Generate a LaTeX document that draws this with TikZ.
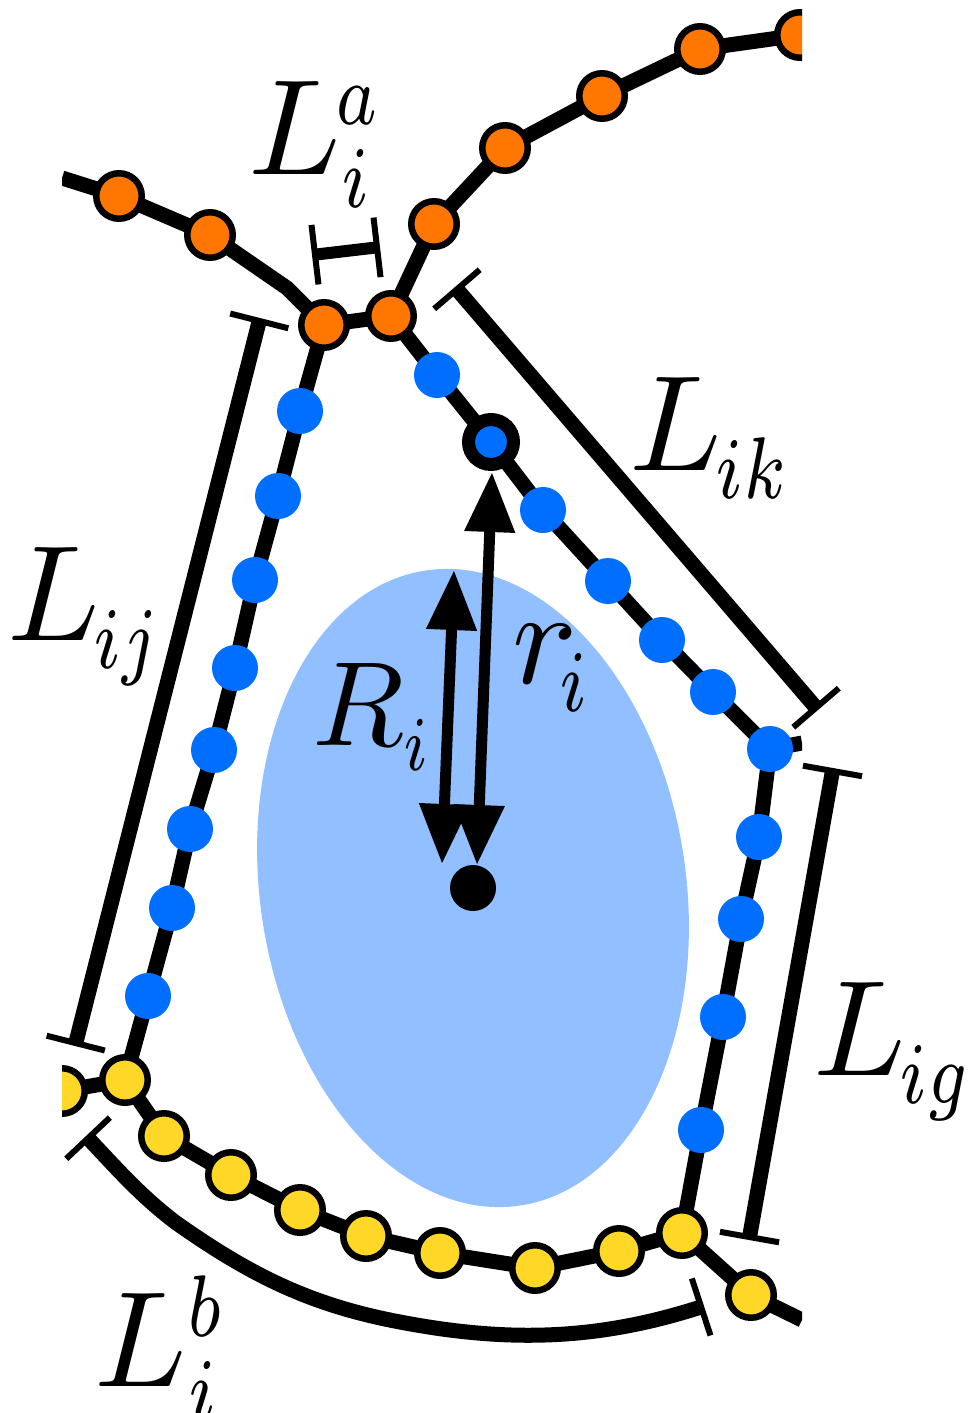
\documentclass[tikz,border=0pt]{standalone}
\usepackage{xcolor}
\usepackage{tikz}
\usetikzlibrary{arrows.meta,shapes.geometric,backgrounds,bending}

\definecolor{segorange}{HTML}{FF7700}
\definecolor{segblue}{HTML}{006EFF}
\definecolor{segyellow}{HTML}{FFD726}
\definecolor{cellblue}{HTML}{91BFFF}

\newcommand{\tightscript}[1]{\scalebox{.72}[.92]{$\scriptstyle #1$}}
\newcommand{\lowscript}[2][-.5pt]{\kern#1\raisebox{-.6pt}{\tightscript{#2}}}

\begin{document}
\begin{tikzpicture}[
  x=1pt, y=-1pt,
  orangebead/.style={circle, draw, line width=6.5pt, fill=segorange, minimum size=45.5pt, inner sep=0pt},
  yellowbead/.style={circle, draw, line width=6.5pt, fill=segyellow, minimum size=45.5pt, inner sep=0pt},
  bluebead/.style={circle, fill=segblue, minimum size=46pt, inner sep=0pt},
  ringbead/.style={circle, draw, line width=13pt, fill=segblue, minimum size=45pt, inner sep=0pt},
  centre/.style={circle, fill=black, minimum size=46pt, inner sep=0pt},
  cell/.style={ellipse, fill=cellblue, minimum width=426pt, minimum height=642pt, inner sep=0pt, outer sep=0pt, rotate=8.4},
  chain/.style={line width=15pt},
  span/.style={{Bar[width=60pt,line width=6pt]}-{Bar[width=60pt,line width=6pt]}, line width=15pt},
  radius/.style={{Triangle[length=60pt,width=48pt]}-{Triangle[length=60pt,width=48pt]}, line width=11pt},
  sym/.style={anchor=base west, inner sep=0pt, scale=13.6, transform shape}
]
\useasboundingbox (0,0) rectangle (969,1413);

\node[cell] (body) at (473,888) {};
\node[centre] (mid) at (473,888) {};

\begin{scope}
\clip (62,0) rectangle (802,1413);
\node[orangebead] (o1) at (119,196) {};
\node[orangebead] (o2) at (210,235) {};
\node[orangebead] (o3) at (324,325) {};
\node[orangebead] (o4) at (391,316) {};
\node[orangebead] (o5) at (434,224) {};
\node[orangebead] (o6) at (505,148) {};
\node[orangebead] (o7) at (602,96) {};
\node[orangebead] (o8) at (700,49) {};
\node[orangebead] (o9) at (800,35) {};

\node[bluebead] (j1) at (300,411) {};
\node[bluebead] (j2) at (278,496) {};
\node[bluebead] (j3) at (255,580) {};
\node[bluebead] (j4) at (235,668) {};
\node[bluebead] (j5) at (214,750) {};
\node[bluebead] (j6) at (190,829) {};
\node[bluebead] (j7) at (172,908) {};
\node[bluebead] (j8) at (148,996) {};

\node[bluebead] (k1) at (437,375) {};
\node[ringbead] (self) at (491,442) {};
\node[bluebead] (k2) at (543,510) {};
\node[bluebead] (k3) at (608,581) {};
\node[bluebead] (k4) at (662,640) {};
\node[bluebead] (k5) at (713,692) {};
\node[bluebead] (k6) at (770,749) {};

\node[bluebead] (g1) at (759,837) {};
\node[bluebead] (g2) at (741,919) {};
\node[bluebead] (g3) at (723,1017) {};
\node[bluebead] (g4) at (701,1130) {};

\node[yellowbead] (y1) at (62,1091) {};
\node[yellowbead] (y2) at (125,1080) {};
\node[yellowbead] (y3) at (164,1136) {};
\node[yellowbead] (y4) at (231,1175) {};
\node[yellowbead] (y5) at (300,1210) {};
\node[yellowbead] (y6) at (366,1236) {};
\node[yellowbead] (y7) at (440,1253) {};
\node[yellowbead] (y8) at (535,1268) {};
\node[yellowbead] (y9) at (619,1251) {};
\node[yellowbead] (y10) at (682,1233) {};
\node[yellowbead] (y11) at (751,1295) {};
\end{scope}

\coordinate (topleft) at (62,178);
\coordinate (bend) at (287,288);
\coordinate (stub) at (802,743);
\coordinate (botright) at (802,1320);

\begin{scope}[on background layer]
\clip (62,0) rectangle (802,1413);
\draw[chain] (topleft) -- (o1.center) -- (o2.center) -- (bend) -- (o3.center) -- (o4.center) -- (o5.center) -- (o6.center) -- (o7.center) -- (o8.center) -- (o9.center);
\draw[chain] (o3.center) -- (j1.center) -- (j2.center) -- (j3.center) -- (j4.center) -- (j5.center) -- (j6.center) -- (j7.center) -- (j8.center) -- (y2.center);
\draw[chain] (o4.center) -- (k1.center) -- (self.center) -- (k2.center) -- (k3.center) -- (k4.center) -- (k5.center) -- (k6.center) -- (stub);
\draw[chain] (k6.center) -- (g1.center) -- (g2.center) -- (g3.center) -- (g4.center) -- (y10.center);
\draw[chain] (y1.center) -- (y2.center) -- (y3.center) -- (y4.center) -- (y5.center) -- (y6.center) -- (y7.center) -- (y8.center) -- (y9.center) -- (y10.center) -- (y11.center) -- (botright);
\end{scope}

\coordinate (ijtop) at (260,318);
\coordinate (ijbot) at (75,1046);
\coordinate (atop) at (312,255);
\coordinate (abot) at (380,247);
\coordinate (iktop) at (455,287);
\coordinate (ikbot) at (818,710);
\coordinate (igtop) at (833,768);
\coordinate (igbot) at (749,1240);
\coordinate (bstart) at (86,1136);
\coordinate (bend1) at (175,1222);
\coordinate (bend2) at (400,1322);
\coordinate (bstop) at (704,1306);

\draw[span] (ijtop) -- (ijbot);
\draw[span, line width=12pt] (atop) -- (abot);
\draw[span] (iktop) -- (ikbot);
\draw[span] (igtop) -- (igbot);
\draw[span] (bstart) .. controls (120,1172) and (140,1195) .. (bend1) .. controls (250,1275) and (310,1305) .. (bend2) .. controls (510,1343) and (600,1340) .. (bstop);

\coordinate (Rtop) at (454,570);
\coordinate (Rbot) at (442,864);
\coordinate (rtop) at (492,472);
\coordinate (rbot) at (477,865);

\draw[radius] (Rtop) -- (Rbot);
\draw[radius] (rtop) -- (rbot);

\node[sym] (la) at (246,174) {$L_{\tightscript{i}}^{\kern-.4pt\tightscript{a}}$};
\node[sym] (lb) at (92,1386) {$L_{\kern.1pt\tightscript{i}}^{\tightscript{b}}$};
\node[sym] (lij) at (5,640) {$L_{\lowscript{ij}}$};
\node[sym] (lik) at (627,470) {$L_{\lowscript{ik}}$};
\node[sym] (lig) at (811,1075) {$L_{\lowscript{ig}}$};
\node[sym, scale=12/13.6] (Ri) at (310,745) {$R_{\lowscript[0pt]{i}}$};
\node[sym] (ri) at (510,683) {$r_{\lowscript[-1.1pt]{i}}$};

\end{tikzpicture}
\end{document}
